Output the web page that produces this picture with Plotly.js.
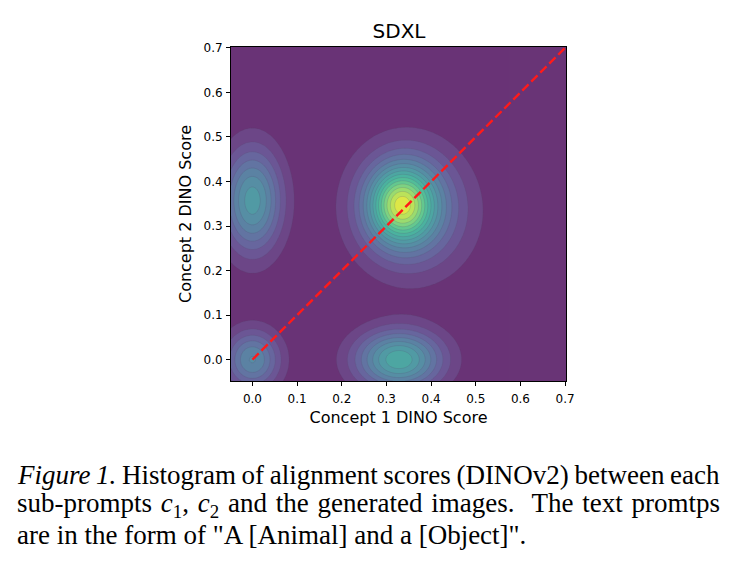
<!DOCTYPE html>
<html>
<head>
<meta charset="utf-8">
<script src="https://cdn.plot.ly/plotly-3.0.1.min.js"></script>
<style>
  html, body { margin: 0; padding: 0; background: #ffffff; }
  #chart { width: 735px; height: 564px; }
</style>
</head>
<body>
<div id="chart"></div>
<script>
// ---- Data (KDE of Concept 1 / Concept 2 DINO scores) ----
// Density modes: location, spread and relative peak height of each kernel group
const modeX    = [0.332, 0.340, 0.370, 0.000, 0.328, 0.000];
const modeY    = [0.347, 0.350, 0.325, 0.357, 0.000, 0.000];
const modeSdX  = [0.045, 0.070, 0.095, 0.046, 0.067, 0.043];
const modeSdY  = [0.052, 0.080, 0.100, 0.081, 0.046, 0.046];
const modePeak = [0.45, 0.40, 0.15, 0.47, 0.55, 0.38];

// Diagonal reference line (Concept 1 score = Concept 2 score)
const diagX = [0.0, 0.7];
const diagY = [0.0, 0.7];

// Axis ticks
const tickValues = [0.0, 0.1, 0.2, 0.3, 0.4, 0.5, 0.6, 0.7];
const tickLabels = ['0.0', '0.1', '0.2', '0.3', '0.4', '0.5', '0.6', '0.7'];

// Text
const chartTitle = 'SDXL';
const xTitle = 'Concept 1 DINO Score';
const yTitle = 'Concept 2 DINO Score';
const captionLines = [
  '<i>Figure 1.</i> Histogram of alignment scores (DINOv2) between each',
  'sub-prompts <i>c</i><sub>1</sub>, <i>c</i><sub>2</sub> and the generated images.  The text promtps',
  'are in the form of "A [Animal] and a [Object]".'
];

// ---- Density grid built from the modes ----
const lo = -0.048, hi = 0.702, n = 181;
const gx = [], gy = [];
for (let i = 0; i < n; i++) { gx.push(lo + (hi - lo) * i / (n - 1)); gy.push(lo + (hi - lo) * i / (n - 1)); }
const gz = gy.map(function (y) {
  return gx.map(function (x) {
    let s = 0;
    for (let k = 0; k < modeX.length; k++) {
      const dx = (x - modeX[k]) / modeSdX[k];
      const dy = (y - modeY[k]) / modeSdY[k];
      s += modePeak[k] * Math.exp(-0.5 * (dx * dx + dy * dy));
    }
    return s;
  });
});

const step = 1 / 16;

const traces = [
  {
    type: 'contour',
    x: gx, y: gy, z: gz,
    colorscale: 'Viridis',
    zmin: 0, zmax: 1.12,
    autocontour: false,
    contours: { start: step, end: 1.0, size: step, coloring: 'fill' },
    line: { width: 0.6, color: 'rgba(45,25,70,0.3)', smoothing: 1 },
    opacity: 0.8,
    showscale: false,
    hoverinfo: 'skip'
  },
  {
    type: 'scatter', mode: 'lines',
    x: diagX, y: diagY,
    line: { color: '#ff1a1a', width: 2.4, dash: '8.9px,3.8px' },
    hoverinfo: 'skip', showlegend: false
  }
];

const annFont = { family: 'Liberation Serif, Times New Roman, serif', size: 27, color: '#000000' };
const capY = [475, 505, 535];
const annotations = captionLines.map(function (t, i) {
  return {
    xref: 'paper', yref: 'paper',
    x: (15 - 231) / 335, y: (381 - capY[i]) / 334,
    xanchor: 'left', yanchor: 'middle', align: 'left',
    text: t, showarrow: false, font: annFont
  };
});

const axisCommon = {
  range: [lo, hi],
  tickvals: tickValues, ticktext: tickLabels,
  ticks: 'outside', ticklen: 4, tickwidth: 1, tickcolor: '#000000',
  showline: true, linecolor: '#000000', linewidth: 1, mirror: true,
  showgrid: false, zeroline: false,
  tickfont: { family: 'DejaVu Sans', size: 12, color: '#000000' }
};

const layout = {
  width: 735, height: 564,
  margin: { l: 231, r: 169, t: 47, b: 183, pad: 0 },
  paper_bgcolor: '#ffffff', plot_bgcolor: '#ffffff',
  showlegend: false,
  title: {
    text: chartTitle,
    font: { family: 'DejaVu Sans', size: 20, color: '#000000' },
    x: 0.5429, xanchor: 'center', xref: 'container',
    y: 1 - 31 / 564, yanchor: 'middle', yref: 'container'
  },
  xaxis: Object.assign({}, axisCommon, {
    ticklabelstandoff: 3,
    title: { text: xTitle, font: { family: 'DejaVu Sans', size: 16, color: '#000000' }, standoff: 6 }
  }),
  yaxis: Object.assign({}, axisCommon, {
    ticklabelstandoff: 1,
    title: { text: yTitle, font: { family: 'DejaVu Sans', size: 16, color: '#000000' }, standoff: 7 }
  }),
  annotations: annotations
};

Plotly.newPlot('chart', traces, layout, { staticPlot: true, displayModeBar: false }).then(function () {
  // Justify the first two caption lines to the full text width (18px .. 720px)
  const targetLeft = 18, targetRight = 720;
  const texts = document.querySelectorAll('g.annotation text.annotation-text');
  for (let i = 0; i < 2 && i < texts.length; i++) {
    const el = texts[i];
    const r = el.getBoundingClientRect();
    const spaces = (el.textContent.match(/ /g) || []).length;
    if (spaces > 0) {
      el.style.wordSpacing = ((targetRight - r.left - r.width) / spaces) + 'px';
    }
  }
});
</script>
</body>
</html>
